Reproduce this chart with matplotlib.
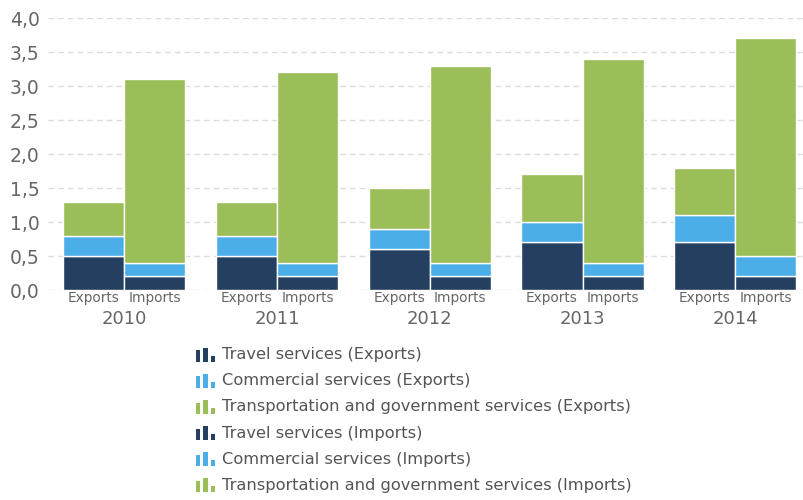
import numpy as np
import matplotlib.pyplot as plt
from matplotlib.patches import Rectangle
from matplotlib.legend_handler import HandlerBase

plt.rcParams['font.family'] = ['DejaVu Sans']

# Data
years = ["2010", "2011", "2012", "2013", "2014"]
exp_travel = [0.5, 0.5, 0.6, 0.7, 0.7]
exp_commercial = [0.3, 0.3, 0.3, 0.3, 0.4]
exp_transport = [0.5, 0.5, 0.6, 0.7, 0.7]
imp_travel = [0.2, 0.2, 0.2, 0.2, 0.2]
imp_commercial = [0.2, 0.2, 0.2, 0.2, 0.3]
imp_transport = [2.7, 2.8, 2.9, 3.0, 3.2]
yticks = [0.0, 0.5, 1.0, 1.5, 2.0, 2.5, 3.0, 3.5, 4.0]

c_travel = "#243f60"
c_comm = "#4baee8"
c_trans = "#9bbe59"
txt = "#666666"


class BarIcon(HandlerBase):
    # little three-bar glyph like the original legend
    def create_artists(self, legend, orig_handle, xd, yd, width, height, fontsize, trans):
        col = orig_handle.get_facecolor()
        bw = width * 0.22
        hs = [0.85, 1.05, 0.45]
        arts = []
        for k, h in enumerate(hs):
            r = Rectangle((-xd + k * width * 0.38, -yd - height * 0.1), bw, height * h,
                          facecolor=col, edgecolor="none", transform=trans)
            arts.append(r)
        return arts


fig = plt.figure(figsize=(8.04, 5.0), dpi=100)
ax = fig.add_axes([48 / 804, 210 / 500, 1 - 48 / 804, (290 - 18) / 500])

x = np.arange(len(years))
w = 0.4
xe = x - w / 2
xi = x + w / 2
kw = dict(width=w, edgecolor="white", linewidth=1.0, zorder=3)

b1 = ax.bar(xe, exp_travel, color=c_travel, **kw)
b2 = ax.bar(xe, exp_commercial, bottom=exp_travel, color=c_comm, **kw)
b3 = ax.bar(xe, exp_transport, bottom=np.add(exp_travel, exp_commercial), color=c_trans, **kw)
b4 = ax.bar(xi, imp_travel, color=c_travel, **kw)
b5 = ax.bar(xi, imp_commercial, bottom=imp_travel, color=c_comm, **kw)
b6 = ax.bar(xi, imp_transport, bottom=np.add(imp_travel, imp_commercial), color=c_trans, **kw)

ax.set_xlim(-0.5, 4.45)
ax.set_ylim(0, 4.0)
ax.set_yticks(yticks)
ax.set_yticklabels([("%.1f" % v).replace(".", ",") for v in yticks], fontsize=13.5, color=txt)
ax.tick_params(axis="y", length=0, pad=6)
ax.grid(axis="y", linestyle=(0, (4, 3)), color="#dcdcdc", linewidth=1, zorder=0)
for s in ax.spines.values():
    s.set_visible(False)

ax.set_xticks(np.concatenate([xe, xi]))
ax.set_xticklabels(["Exports"] * 5 + ["Imports"] * 5, fontsize=9.8, color=txt)
ax.tick_params(axis="x", length=0, pad=1)
for i, yr in enumerate(years):
    ax.annotate(yr, xy=(x[i], 0), xycoords=("data", "axes fraction"),
                xytext=(0, -14.5), textcoords="offset points",
                ha="center", va="top", fontsize=13, color=txt)

labels = ["Travel services (Exports)", "Commercial services (Exports)",
          "Transportation and government services (Exports)",
          "Travel services (Imports)", "Commercial services (Imports)",
          "Transportation and government services (Imports)"]
proxies = [Rectangle((0, 0), 1, 1, facecolor=c) for c in
           [c_travel, c_comm, c_trans, c_travel, c_comm, c_trans]]
leg = fig.legend(proxies, labels, loc="upper left", bbox_to_anchor=(196 / 804, 1 - 347 / 500),
                 frameon=False, fontsize=11.7, handler_map={Rectangle: BarIcon()},
                 handlelength=1.2, handleheight=0.9, handletextpad=0.4, labelspacing=0.66,
                 borderaxespad=0, borderpad=0)
for t in leg.get_texts():
    t.set_color("#555555")

fig.savefig("out.png", dpi=100)
